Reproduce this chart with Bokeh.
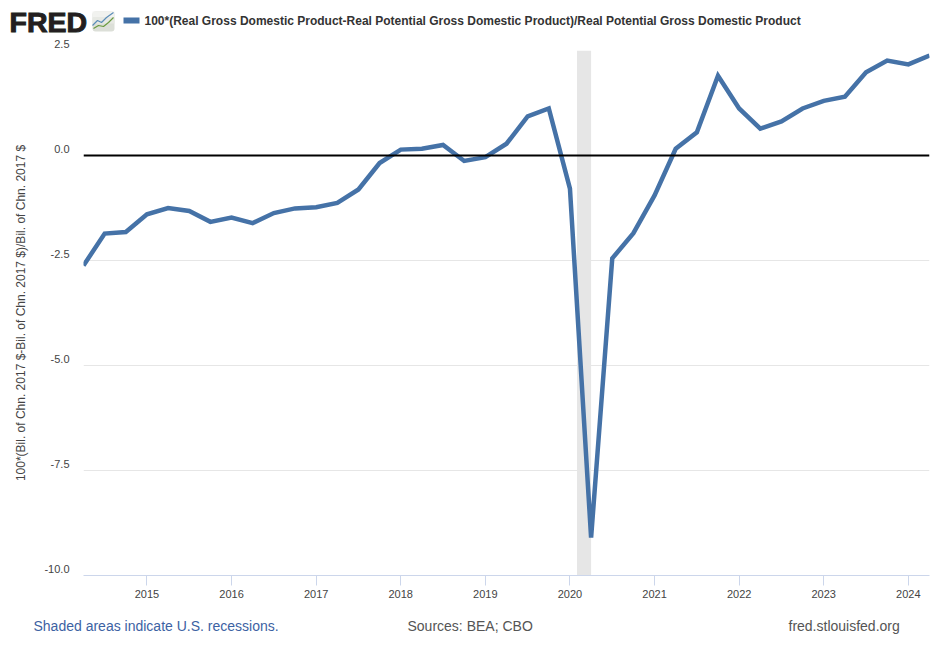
from math import pi
from bokeh.plotting import figure
from bokeh.layouts import column, row
from bokeh.models import FixedTicker, BoxAnnotation, Span, NumeralTickFormatter
from bokeh.core.properties import value
from bokeh.embed import file_html
from bokeh.resources import INLINE

quarters = [2014 + 0.25 * i for i in range(1, 42)]
gap = [-2.62, -1.86, -1.82, -1.40, -1.25, -1.32, -1.58, -1.48, -1.61, -1.37, -1.26,
       -1.23, -1.13, -0.81, -0.18, 0.14, 0.16, 0.25, -0.13, -0.04, 0.28, 0.93, 1.12,
       -0.79, -9.10, -2.45, -1.85, -0.95, 0.16, 0.55, 1.90, 1.12, 0.64, 0.81, 1.12,
       1.30, 1.40, 1.98, 2.26, 2.17, 2.38]
year_ticks = list(range(2015, 2025))
value_ticks = [-10.0, -7.5, -5.0, -2.5, 0.0, 2.5]
value_labels = ["-10.0", "-7.5", "-5.0", "-2.5", "0.0", "2.5"]
recession = (2020.083, 2020.25)
series_name = "100*(Real Gross Domestic Product-Real Potential Gross Domestic Product)/Real Potential Gross Domestic Product"
y_title = "100*(Bil. of Chn. 2017 $-Bil. of Chn. 2017 $)/Bil. of Chn. 2017 $"
footer_left = "Shaded areas indicate U.S. recessions."
footer_mid = "Sources: BEA; CBO"
footer_right = "fred.stlouisfed.org"

FONT = "Liberation Sans"
BLUE = "#4572a7"
W = 942
HEAD_H = 39
TOP_GAP = 11
BOT_GAP = 30
MID_H = 525 + TOP_GAP + BOT_GAP
FOOT_H = 36
LEFT_W = 83
UNIT_PX = 42.0  # pixels per y unit


def strip(w, h, y_range=None):
    f = figure(width=w, height=h, output_backend="svg", toolbar_location=None,
               x_range=(0, w), y_range=y_range or (h, 0),
               min_border=0, min_border_left=0, min_border_right=0,
               min_border_top=0, min_border_bottom=0,
               x_axis_location=None, y_axis_location=None, frame_align=False)
    f.outline_line_color = None
    f.grid.visible = False
    return f


def put(f, x, y, txt, size, color, style="normal", **kw):
    f.text([x], [y], text=[txt], text_font=value(FONT), text_font_size=value(size),
           text_color=color, text_font_style=style, text_baseline="middle", **kw)


# header
head = strip(W, HEAD_H)
put(head, 9, 21, "FRED", "28.5px", "#231f20", "bold", text_outline_color="#231f20")
head.quad(left=[92], right=[114], top=[11], bottom=[31], fill_color="#dcdfd8",
          line_color=None, border_radius=3)
head.quad(left=[92], right=[114], top=[11], bottom=[17], fill_color="#f1f2ef", line_color=None)
head.quad(left=[92], right=[114], top=[17], bottom=[23], fill_color="#e7e9e4", line_color=None)
head.line([92, 97, 101, 106, 113], [25, 20, 22, 17, 12], line_color="#5b8db8", line_width=1.2)
head.line([93, 98, 103, 108, 113], [28, 25, 26, 22, 17], line_color="#6a9a3f", line_width=1.2)
head.quad(left=[123], right=[139], top=[17], bottom=[23], fill_color=BLUE, line_color=None)
put(head, 144, 20, series_name, "12px", "#333333", "bold")

# left strip: y title and value labels, on the same scale as the chart
left = strip(LEFT_W, MID_H, y_range=(-10 - BOT_GAP / UNIT_PX, 2.5 + TOP_GAP / UNIT_PX))
left.text([69] * len(value_ticks), value_ticks, text=value_labels,
          text_font=value(FONT), text_font_size=value("11px"), text_color="#444444",
          text_align="right", text_baseline="middle", y_offset=-7)
left.text([20], [-3.75], text=[y_title], text_font=value(FONT), text_font_size=value("12px"),
          text_color="#444444", text_align="center", text_baseline="middle", angle=pi / 2)

# main chart
p = figure(width=W - LEFT_W, height=MID_H, output_backend="svg", toolbar_location=None,
           x_range=(2014.25, 2024.25), y_range=(-10, 2.5),
           frame_width=846, frame_height=525, frame_align=False, y_axis_location=None,
           min_border_left=0, min_border_top=TOP_GAP, min_border_right=13, min_border_bottom=BOT_GAP)
p.outline_line_color = None
p.xgrid.visible = False
p.ygrid.ticker = FixedTicker(ticks=value_ticks)
p.ygrid.grid_line_color = "#e6e6e6"
p.ygrid.grid_line_width = 1

xa = p.xaxis[0]
xa.ticker = FixedTicker(ticks=year_ticks)
xa.formatter = NumeralTickFormatter(format="0")
xa.axis_line_color = "#ccd6eb"
xa.major_tick_line_color = "#ccd6eb"
xa.major_tick_in = 0
xa.major_tick_out = 10
xa.minor_tick_line_color = None
xa.major_label_standoff = 4
xa.major_label_text_font = FONT
xa.major_label_text_font_size = "11px"
xa.major_label_text_color = "#444444"

p.add_layout(BoxAnnotation(left=recession[0], right=recession[1], bottom=-10, top=2.5,
                           fill_color="#e6e6e6", fill_alpha=1, line_color=None, level="underlay"))
p.line(quarters, gap, line_color=BLUE, line_width=4.5, line_join="miter")
p.add_layout(Span(location=0, dimension="width", line_color="black", line_width=2))

# footer
foot = strip(W, FOOT_H)
put(foot, 33, 20, footer_left, "14px", "#3c62a3")
put(foot, 407, 20, footer_mid, "14px", "#555555")
put(foot, 788, 20, footer_right, "14px", "#555555")

page = column(head, row(left, p, spacing=0), foot, spacing=0)
open("out.html", "w").write(file_html(page, INLINE))
